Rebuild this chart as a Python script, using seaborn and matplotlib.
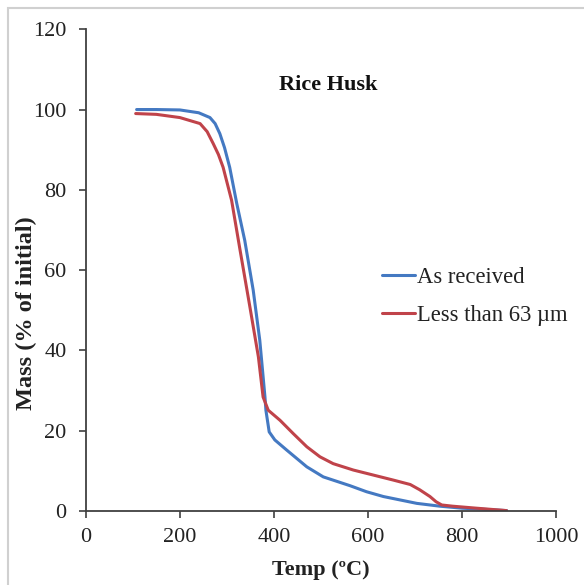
import matplotlib
matplotlib.use("Agg")
import matplotlib.pyplot as plt
import seaborn as sns
import pandas as pd
from matplotlib.patches import Rectangle

# Data
temp_received = [108, 150, 200, 240, 264, 275, 285, 295, 306, 321, 338, 356, 370, 381, 383,
                 390, 402, 427, 470, 505, 562, 597, 633, 704, 753, 800, 850, 895]
mass_received = [100.0, 100.0, 99.9, 99.2, 98.0, 96.5, 94.0, 90.5, 85.6, 76.6, 67.4, 55.0,
                 42.5, 28.4, 25.1, 19.7, 17.7, 15.2, 11.0, 8.5, 6.3, 4.8, 3.6, 1.9, 1.2,
                 0.7, 0.4, 0.1]

temp_fine = [106, 150, 200, 243, 258, 271, 282, 292, 310, 328, 349, 367, 377, 388, 413,
             441, 470, 498, 526, 569, 654, 690, 710, 732, 745, 757, 780, 831, 895]
mass_fine = [99.0, 98.8, 98.0, 96.5, 94.5, 91.5, 88.8, 85.6, 77.4, 65.0, 50.8, 38.4, 28.4,
             25.1, 22.6, 19.3, 16.0, 13.5, 11.8, 10.2, 7.7, 6.6, 5.3, 3.6, 2.3, 1.5, 1.2,
             0.7, 0.1]

series_names = ["As received", "Less than 63 \u00b5m"]
x_ticks = [0, 200, 400, 600, 800, 1000]
y_ticks = [0, 20, 40, 60, 80, 100, 120]

df = pd.concat([
    pd.DataFrame({"Temp": temp_received, "Mass": mass_received, "Sample": series_names[0]}),
    pd.DataFrame({"Temp": temp_fine, "Mass": mass_fine, "Sample": series_names[1]}),
], ignore_index=True)

sns.set_style("white")
plt.rcParams["font.family"] = ["Liberation Serif", "DejaVu Serif"]

fig = plt.figure(figsize=(5.84, 5.85), dpi=100)
ax = fig.add_axes([0.147, 0.1265, 0.805, 0.8235])

palette = {series_names[0]: "#4479C2", series_names[1]: "#C0434A"}
sns.lineplot(data=df, x="Temp", y="Mass", hue="Sample", palette=palette,
             linewidth=2.2, sort=False, estimator=None, ax=ax)
for ln in ax.lines:
    ln.set_solid_joinstyle("round")
    ln.set_solid_capstyle("round")

ax.set_xlim(0, 1000)
ax.set_ylim(0, 120)
ax.set_xticks(x_ticks)
ax.set_yticks(y_ticks)
ax.tick_params(axis="both", direction="out", length=5, width=1.2, color="#404040",
               labelsize=16, labelcolor="#222222", left=True, bottom=True)
ax.tick_params(axis="y", pad=9)
ax.tick_params(axis="x", pad=7)
for s in ["top", "right"]:
    ax.spines[s].set_visible(False)
for s in ["left", "bottom"]:
    ax.spines[s].set_color("#404040")
    ax.spines[s].set_linewidth(1.3)

ax.set_xlabel("Temp (\u00baC)", fontsize=16, fontweight="bold", color="#222222")
ax.set_ylabel("Mass (% of initial)", fontsize=17.5, fontweight="bold", color="#222222")
ax.xaxis.set_label_coords(0.5, -0.101)
ax.yaxis.set_label_coords(-0.104, 0.41)

ax.text(515, 106.2, "Rice Husk", fontsize=16, fontweight="bold", ha="center", va="center",
        color="#111111")

leg = ax.legend(loc="upper left", bbox_to_anchor=(0.63, 0.507), frameon=False,
                fontsize=16.3, handlelength=1.45, handletextpad=0.1, labelspacing=0.75,
                borderpad=0, borderaxespad=0)
for t in leg.get_texts():
    t.set_color("#222222")

fig.patches.append(Rectangle((8 / 584, -0.05), 1.2, (577 / 585) + 0.05, transform=fig.transFigure,
                             fill=False, edgecolor="#D0D0D0", linewidth=1.5))

fig.savefig("out.png", dpi=100)
